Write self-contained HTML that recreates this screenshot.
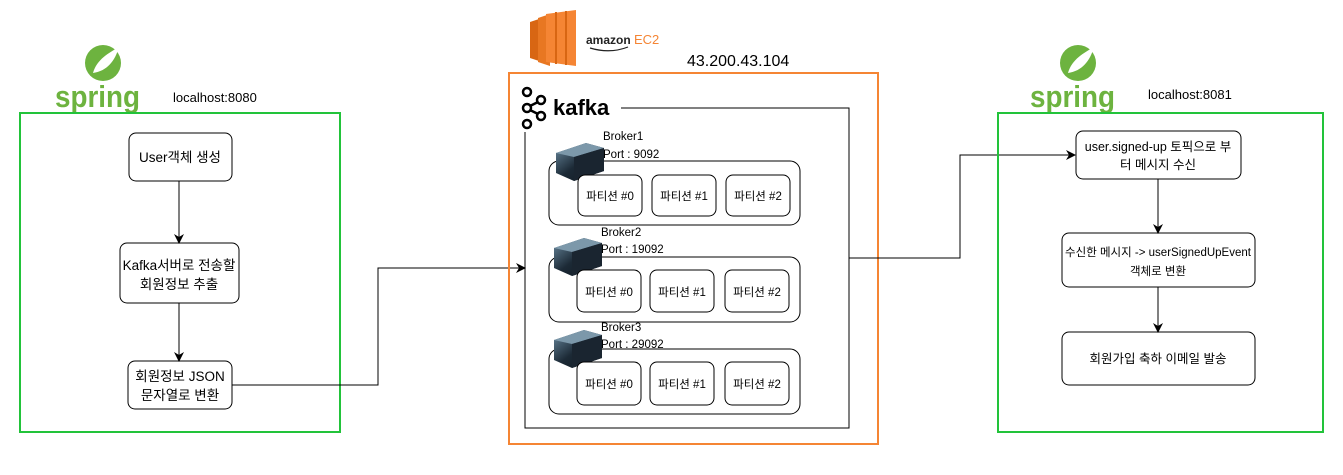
<!DOCTYPE html>
<html><head><meta charset="utf-8"><style>
html,body{margin:0;padding:0;background:#fff;}
svg{display:block;font-family:"Liberation Sans","Noto Sans CJK KR",sans-serif;}
</style></head><body>
<svg width="1343" height="475" viewBox="0 0 1343 475" xmlns="http://www.w3.org/2000/svg">
<defs>
<marker id="a" markerWidth="10" markerHeight="10" refX="9" refY="5" orient="auto" markerUnits="userSpaceOnUse"><path d="M0,0 L10,5 L0,10 L3,5 Z" fill="#000"/></marker>
<linearGradient id="srv" x1="0" y1="0" x2="1" y2="1"><stop offset="0" stop-color="#6a8aa0"/><stop offset="0.5" stop-color="#1c2a36"/><stop offset="1" stop-color="#0d151c"/></linearGradient>
<g id="server">
<polygon points="0,10 30,0 48,5 48,28 18,38 0,30" fill="url(#srv)"/>
<polygon points="0,10 30,0 48,5 18,14" fill="#7c98aa"/>
<polygon points="18,14 48,5 48,28 18,38" fill="#1a2530"/>
</g>
<g id="spring">
<circle cx="48" cy="18" r="18" fill="#6db33f"/>
<path d="M38,28 C42,14 54,8 64,2 C60,16 52,26 38,28 Z" fill="#fff"/>
<text x="0" y="62" font-size="31" font-weight="bold" fill="#6db33f" textLength="85" lengthAdjust="spacingAndGlyphs">spring</text>
</g>
</defs>

<use href="#spring" x="55" y="45"/>
<text x="173" y="102" font-size="13">localhost:8080</text>
<rect x="20" y="113" width="320" height="319" fill="none" stroke="#22c33a" stroke-width="2"/>
<rect x="129" y="133" width="103" height="48" rx="7" fill="#fff" stroke="#000"/>
<text x="180" y="162" font-size="13.5" text-anchor="middle">User객체 생성</text>
<rect x="120" y="243" width="119" height="60" rx="7" fill="#fff" stroke="#000"/>
<text x="179" y="270" font-size="13.5" text-anchor="middle">Kafka서버로 전송할</text>
<text x="179" y="289" font-size="13.5" text-anchor="middle">회원정보 추출</text>
<rect x="128" y="361" width="104" height="48" rx="7" fill="#fff" stroke="#000"/>
<text x="180" y="381" font-size="13.5" text-anchor="middle">회원정보 JSON</text>
<text x="180" y="400" font-size="13.5" text-anchor="middle">문자열로 변환</text>
<line x1="179" y1="181" x2="179" y2="243" stroke="#000" marker-end="url(#a)"/>
<line x1="179" y1="303" x2="179" y2="361" stroke="#000" marker-end="url(#a)"/>
<polyline points="232,385 378,385 378,268 525,268" fill="none" stroke="#000" marker-end="url(#a)"/>

<polygon points="530,22 542,18 542,62 530,58" fill="#d86613"/>
<polygon points="538,18 550,14 550,66 538,62" fill="#e87722"/>
<polygon points="546,14 576,10 576,66 546,62" fill="#f58534"/>
<line x1="556" y1="12" x2="556" y2="64" stroke="#d86613" stroke-width="2"/>
<line x1="566" y1="11" x2="566" y2="65" stroke="#d86613" stroke-width="2"/>
<text x="586" y="44" font-size="12" font-weight="bold" fill="#222">amazon</text>
<text x="634" y="44" font-size="13" fill="#f58534">EC2</text>
<path d="M590,48 Q610,54 628,47" fill="none" stroke="#222" stroke-width="1.2"/>
<text x="687" y="66" font-size="16">43.200.43.104</text>
<rect x="509" y="73" width="369" height="371" fill="none" stroke="#f58534" stroke-width="2"/>

<g fill="none" stroke="#000" stroke-width="2.5">
<circle cx="527" cy="92" r="4"/><circle cx="527" cy="108" r="4"/><circle cx="527" cy="124" r="4"/>
<circle cx="541" cy="100" r="4"/><circle cx="541" cy="116" r="4"/>
<line x1="530" y1="106" x2="538" y2="102"/><line x1="530" y1="110" x2="538" y2="114"/>
</g>
<text x="553" y="115" font-size="22" font-weight="bold">kafka</text>
<polyline points="621,108 849,108 849,428 525,428 525,132" fill="none" stroke="#000"/>

<g font-size="11.5">
<rect x="549" y="161" width="251" height="64" rx="10" fill="#fff" stroke="#000"/>
<use href="#server" x="556" y="143"/>
<text x="603" y="140">Broker1</text><text x="603" y="158">Port : 9092</text>
<rect x="578" y="175" width="64" height="41" rx="7" fill="#fff" stroke="#000"/>
<rect x="652" y="175" width="64" height="41" rx="7" fill="#fff" stroke="#000"/>
<rect x="726" y="175" width="64" height="41" rx="7" fill="#fff" stroke="#000"/>
<text x="610" y="200" text-anchor="middle">파티션 #0</text><text x="684" y="200" text-anchor="middle">파티션 #1</text><text x="758" y="200" text-anchor="middle">파티션 #2</text>

<rect x="549" y="257" width="251" height="65" rx="10" fill="#fff" stroke="#000"/>
<use href="#server" x="554" y="238"/>
<text x="601" y="236">Broker2</text><text x="601" y="253">Port : 19092</text>
<rect x="577" y="270" width="64" height="42" rx="7" fill="#fff" stroke="#000"/>
<rect x="650" y="270" width="64" height="42" rx="7" fill="#fff" stroke="#000"/>
<rect x="725" y="270" width="64" height="42" rx="7" fill="#fff" stroke="#000"/>
<text x="609" y="296" text-anchor="middle">파티션 #0</text><text x="682" y="296" text-anchor="middle">파티션 #1</text><text x="757" y="296" text-anchor="middle">파티션 #2</text>

<rect x="549" y="349" width="251" height="65" rx="10" fill="#fff" stroke="#000"/>
<use href="#server" x="554" y="330"/>
<text x="601" y="331">Broker3</text><text x="601" y="348">Port : 29092</text>
<rect x="577" y="362" width="64" height="43" rx="7" fill="#fff" stroke="#000"/>
<rect x="650" y="362" width="64" height="43" rx="7" fill="#fff" stroke="#000"/>
<rect x="725" y="362" width="64" height="43" rx="7" fill="#fff" stroke="#000"/>
<text x="609" y="388" text-anchor="middle">파티션 #0</text><text x="682" y="388" text-anchor="middle">파티션 #1</text><text x="757" y="388" text-anchor="middle">파티션 #2</text>
</g>

<polyline points="849,258 960,258 960,155 1075,155" fill="none" stroke="#000" marker-end="url(#a)"/>

<use href="#spring" x="1030" y="45"/>
<text x="1148" y="99" font-size="13">localhost:8081</text>
<rect x="998" y="113" width="325" height="319" fill="none" stroke="#22c33a" stroke-width="2"/>
<rect x="1076" y="131" width="165" height="48" rx="7" fill="#fff" stroke="#000"/>
<text x="1158" y="151" font-size="12.5" text-anchor="middle">user.signed-up 토픽으로 부</text>
<text x="1158" y="169" font-size="12.5" text-anchor="middle">터 메시지 수신</text>
<rect x="1062" y="233" width="193" height="54" rx="7" fill="#fff" stroke="#000"/>
<text x="1158" y="256" font-size="11.5" text-anchor="middle">수신한 메시지 -&gt; userSignedUpEvent</text>
<text x="1158" y="275" font-size="11.5" text-anchor="middle">객체로 변환</text>
<rect x="1062" y="332" width="193" height="53" rx="7" fill="#fff" stroke="#000"/>
<text x="1158" y="363" font-size="12.5" text-anchor="middle">회원가입 축하 이메일 발송</text>
<line x1="1158" y1="179" x2="1158" y2="233" stroke="#000" marker-end="url(#a)"/>
<line x1="1158" y1="287" x2="1158" y2="332" stroke="#000" marker-end="url(#a)"/>
</svg>
</body></html>
